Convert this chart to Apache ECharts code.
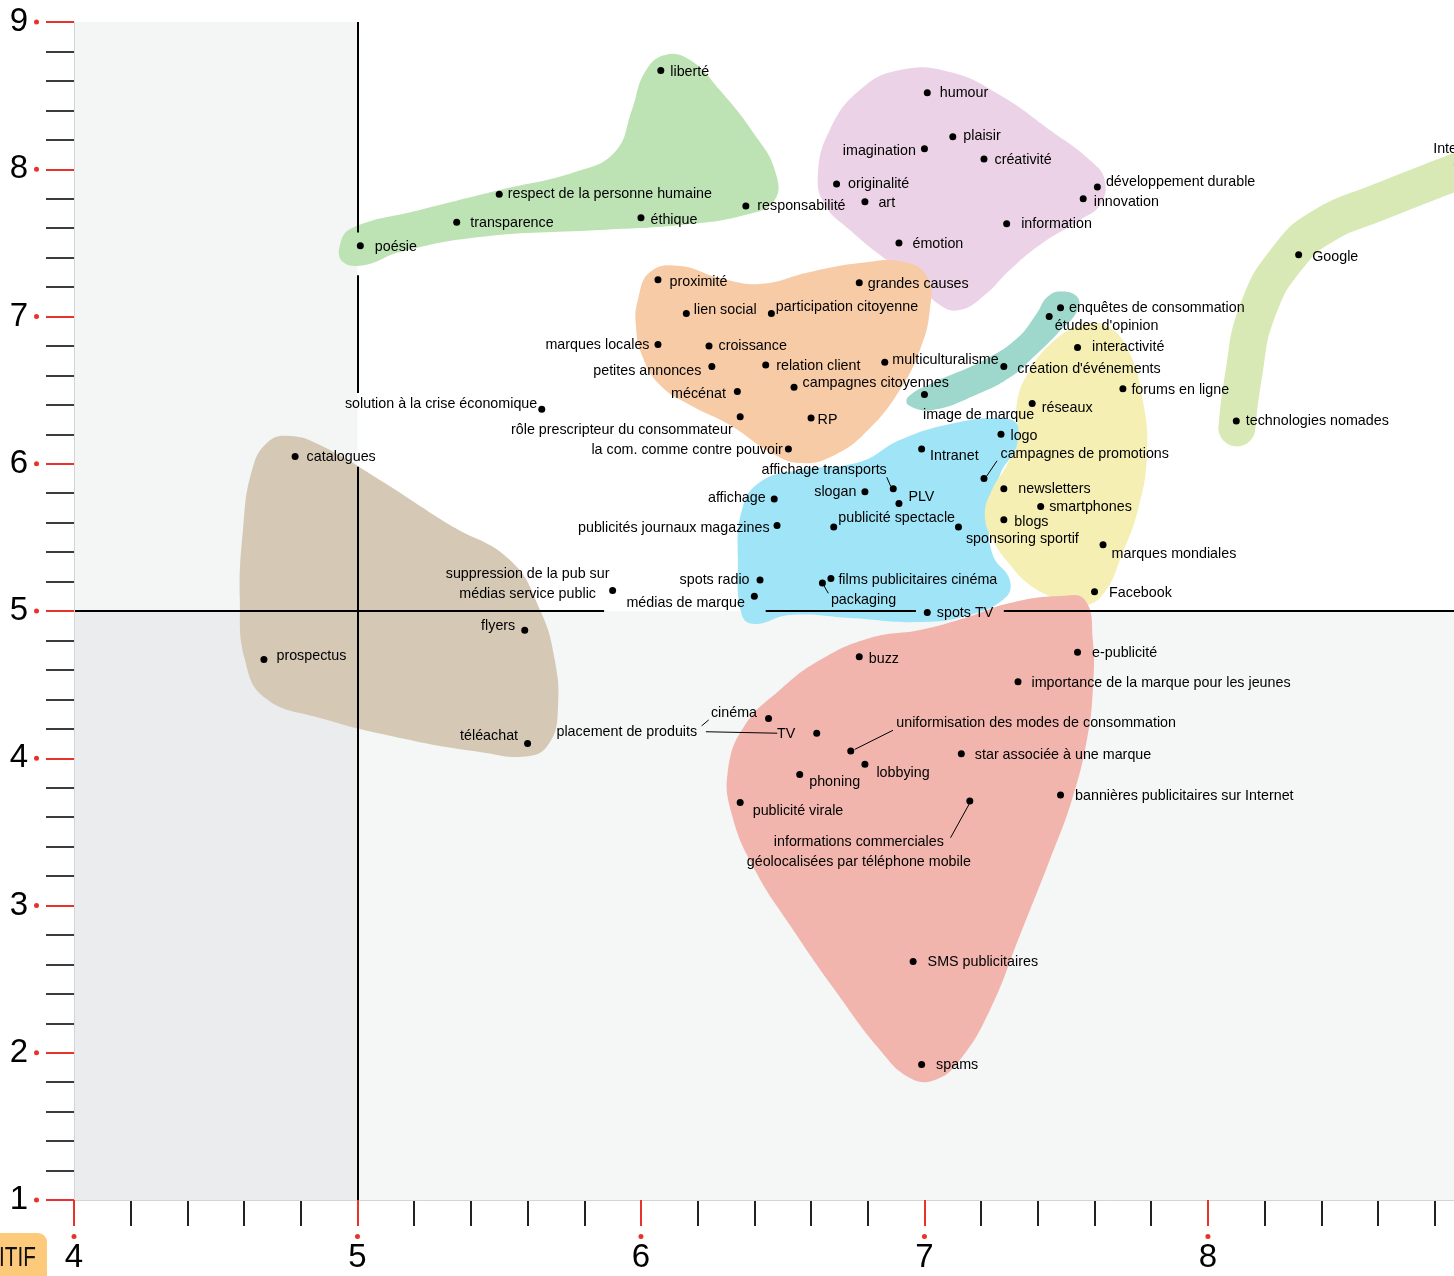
<!DOCTYPE html>
<html><head><meta charset="utf-8">
<script src="https://cdn.jsdelivr.net/npm/echarts@6/dist/echarts.min.js"></script>
<style>html,body{margin:0;padding:0;background:#fff}#c{width:1454px;height:1276px}</style>
</head><body><div id="c"></div>
<script>
// ---------- axis ranges & tick labels ----------
const X_MIN = 4, X_MAX = 8.868, Y_MIN = 1, Y_MAX = 9;
const xTickLabels = ['4', '5', '6', '7', '8'];
const yTickLabels = ['1', '2', '3', '4', '5', '6', '7', '8', '9'];

// ---------- points: [label, x, y] ----------
const ethique = [
  ['liberté', 6.07, 8.67],
  ['respect de la personne humaine', 5.50, 7.83],
  ['transparence', 5.35, 7.64],
  ['éthique', 6.00, 7.67],
  ['responsabilité', 6.37, 7.75],
  ['poésie', 5.01, 7.48]
];
const creativite = [
  ['humour', 7.01, 8.52],
  ['plaisir', 7.10, 8.22],
  ['imagination', 7.00, 8.14],
  ['créativité', 7.21, 8.07],
  ['originalité', 6.69, 7.90],
  ['art', 6.79, 7.78],
  ['développement durable', 7.61, 7.88],
  ['innovation', 7.56, 7.80],
  ['information', 7.29, 7.63],
  ['émotion', 6.91, 7.50]
];
const citoyen = [
  ['proximité', 6.06, 7.25],
  ['grandes causes', 6.77, 7.23],
  ['lien social', 6.16, 7.02],
  ['participation citoyenne', 6.46, 7.02],
  ['marques locales', 6.06, 6.81],
  ['croissance', 6.24, 6.80],
  ['petites annonces', 6.25, 6.66],
  ['relation client', 6.44, 6.67],
  ['multiculturalisme', 6.86, 6.69],
  ['mécénat', 6.34, 6.49],
  ['campagnes citoyennes', 6.54, 6.52],
  ['rôle prescripteur du consommateur', 6.35, 6.32],
  ['RP', 6.60, 6.31],
  ['la com. comme contre pouvoir', 6.52, 6.10]
];
const etudes = [
  ['enquêtes de consommation', 7.48, 7.06],
  ["études d'opinion", 7.44, 7.00],
  ["création d'événements", 7.28, 6.66],
  ['image de marque', 7.00, 6.47]
];
const numerique = [
  ['interactivité', 7.54, 6.79],
  ['forums en ligne', 7.70, 6.51],
  ['réseaux', 7.38, 6.41],
  ['logo', 7.27, 6.20],
  ['campagnes de promotions', 7.21, 5.90],
  ['newsletters', 7.28, 5.83],
  ['smartphones', 7.41, 5.71],
  ['blogs', 7.28, 5.62],
  ['sponsoring sportif', 7.12, 5.57],
  ['marques mondiales', 7.63, 5.45],
  ['Facebook', 7.60, 5.13]
];
const medias = [
  ['Intranet', 6.99, 6.10],
  ['affichage transports', 6.89, 5.83],
  ['slogan', 6.79, 5.81],
  ['PLV', 6.91, 5.73],
  ['affichage', 6.47, 5.76],
  ['publicités journaux magazines', 6.48, 5.58],
  ['publicité spectacle', 6.68, 5.57],
  ['spots radio', 6.42, 5.21],
  ['médias de marque', 6.40, 5.10],
  ['films publicitaires cinéma', 6.67, 5.22],
  ['packaging', 6.64, 5.19],
  ['spots TV', 7.01, 4.99]
];
const papier = [
  ['catalogues', 4.78, 6.05],
  ['prospectus', 4.67, 4.67],
  ['flyers', 5.59, 4.87],
  ['téléachat', 5.60, 4.10]
];
const intrusif = [
  ['e-publicité', 7.54, 4.72],
  ['importance de la marque pour les jeunes', 7.33, 4.52],
  ['buzz', 6.77, 4.69],
  ['cinéma', 6.45, 4.27],
  ['TV', 6.62, 4.17],
  ['uniformisation des modes de consommation', 6.74, 4.05],
  ['lobbying', 6.79, 3.96],
  ['star associée à une marque', 7.13, 4.03],
  ['phoning', 6.56, 3.89],
  ['publicité virale', 6.35, 3.70],
  ['informations commerciales\ngéolocalisées par téléphone mobile', 7.16, 3.71],
  ['bannières publicitaires sur Internet', 7.48, 3.75],
  ['SMS publicitaires', 6.96, 2.62],
  ['spams', 6.99, 1.92]
];
const internet = [
  ['Google', 8.32, 7.42],
  ['technologies nomades', 8.10, 6.29],
  ['Internet', 8.88, 8.03]
];
const autres = [
  ['solution à la crise économique', 5.65, 6.37],
  ['suppression de la pub sur\nmédias service public', 5.90, 5.14]
];
const annotations = [
  ['placement de produits', 5.95, 4.185]
];

// ---------- group outlines (data units) ----------
const outlineEthique = [[4.938,7.486],[4.981,7.601],[5.220,7.723],[5.502,7.859],[5.767,7.981],[5.908,8.117],[5.968,8.402],[6.014,8.660],[6.084,8.776],[6.173,8.742],[6.278,8.538],[6.402,8.233],[6.472,7.995],[6.472,7.791],[6.367,7.689],[6.137,7.621],[5.855,7.587],[5.432,7.540],[5.150,7.438],[5.026,7.350],[4.949,7.370]];
const outlineCreativite = [[6.913,8.674],[7.090,8.660],[7.266,8.504],[7.442,8.267],[7.583,8.063],[7.636,7.927],[7.619,7.757],[7.548,7.655],[7.407,7.486],[7.301,7.316],[7.213,7.146],[7.125,7.044],[7.054,7.078],[6.966,7.248],[6.843,7.418],[6.737,7.587],[6.649,7.757],[6.624,7.961],[6.666,8.267],[6.772,8.538]];
const outlineCitoyen = [[5.989,7.112],[6.032,7.302],[6.137,7.343],[6.278,7.261],[6.420,7.221],[6.596,7.302],[6.772,7.363],[6.931,7.370],[7.012,7.261],[7.019,7.044],[6.984,6.773],[6.913,6.501],[6.808,6.243],[6.684,6.060],[6.561,6.005],[6.455,6.080],[6.314,6.263],[6.173,6.399],[6.067,6.535],[6.003,6.739],[5.982,6.942]];
const outlineEtudes = [[6.942,6.453],[7.030,6.550],[7.206,6.700],[7.326,6.850],[7.396,7.020],[7.432,7.130],[7.478,7.170],[7.538,7.135],[7.540,7.040],[7.467,6.880],[7.382,6.720],[7.301,6.585],[7.185,6.470],[7.030,6.365],[6.945,6.395]];
const outlineNumerique = [[7.326,6.413],[7.372,6.637],[7.460,6.840],[7.548,6.936],[7.636,6.942],[7.718,6.773],[7.770,6.433],[7.785,6.060],[7.753,5.686],[7.696,5.380],[7.636,5.129],[7.559,5.034],[7.460,5.088],[7.372,5.177],[7.308,5.299],[7.241,5.482],[7.213,5.652],[7.238,5.822],[7.291,5.992],[7.330,6.161]];
const outlineMedias = [[6.356,4.973],[6.342,5.346],[6.356,5.686],[6.420,5.876],[6.561,5.958],[6.772,6.012],[6.913,6.161],[7.090,6.270],[7.266,6.311],[7.330,6.263],[7.330,6.127],[7.266,5.924],[7.231,5.618],[7.241,5.380],[7.301,5.211],[7.284,5.088],[7.160,4.973],[6.984,4.925],[6.737,4.953],[6.525,4.973],[6.402,4.912]];
const outlinePapier = [[4.762,6.189],[4.868,6.127],[5.079,5.890],[5.326,5.584],[5.538,5.346],[5.644,5.007],[5.696,4.667],[5.707,4.328],[5.679,4.110],[5.608,4.015],[5.432,4.043],[5.150,4.138],[4.868,4.273],[4.674,4.409],[4.603,4.667],[4.585,5.075],[4.596,5.550],[4.628,5.958],[4.684,6.148]];
const outlineIntrusif = [[7.478,5.102],[7.566,5.075],[7.594,4.803],[7.594,4.464],[7.573,4.124],[7.520,3.717],[7.442,3.309],[7.337,2.800],[7.231,2.290],[7.125,1.951],[7.037,1.815],[6.949,1.829],[6.843,2.019],[6.684,2.426],[6.525,2.868],[6.402,3.241],[6.321,3.615],[6.307,3.920],[6.367,4.226],[6.490,4.464],[6.631,4.667],[6.808,4.817],[6.984,4.871],[7.143,4.953],[7.301,5.054]];
const bandInternet = [[8.102,6.243],[8.123,6.569],[8.176,7.044],[8.289,7.418],[8.412,7.621],[8.596,7.771],[8.828,7.947],[8.924,8.015]];

// ---------- quadrant lines and leader lines (data units) ----------
const crossLines = [
  [[5, 9], [5, 7.57]], [[5, 7.28], [5, 6.48]], [[5, 5.98], [5, 1]],
  [[4, 5], [5.87, 5]], [[6.44, 5], [6.97, 5]], [[7.28, 5], [8.87, 5]]
];
const leaders = [
  [[7.218, 5.912], [7.256, 6.02]],
  [[6.867, 5.909], [6.881, 5.847]],
  [[6.640, 5.19], [6.661, 5.12]],
  [[6.214, 4.22], [6.239, 4.26]],
  [[6.229, 4.18], [6.481, 4.17]],
  [[6.754, 4.06], [6.889, 4.19]],
  [[7.161, 3.70], [7.092, 3.46]]
];

// ---------- label placement (style, px) ----------
const labelPlace = {
  'liberté':['R',1,1], 'respect de la personne humaine':['R',0,0], 'transparence':['R',5,1], 'éthique':['R',1,2], 'responsabilité':['R',3,0], 'poésie':['R',6,1],
  'humour':['R',4,0], 'plaisir':['R',2,-1], 'imagination':['L',0,2], 'créativité':['R',2,1], 'originalité':['R',3,0], 'art':['R',5,1],
  'développement durable':['R',0,-5], 'innovation':['R',2,3], 'information':['R',6,0], 'émotion':['R',5,1],
  'proximité':['R',3,2], 'grandes causes':['R',0,1], 'lien social':['R',-1,-4], 'participation citoyenne':['R',-4,-7],
  'marques locales':['L',0,1], 'croissance':['R',1,0], 'petites annonces':['L',-2,4], 'relation client':['R',2,1],
  'multiculturalisme':['R',-1,-2], 'mécénat':['L',-3,2], 'campagnes citoyennes':['R',0,-4],
  'rôle prescripteur du consommateur':['L',1,13], 'RP':['R',-2,2], 'la com. comme contre pouvoir':['L',3,1],
  'solution à la crise économique':['L',4,-5],
  'enquêtes de consommation':['R',0,0], "études d'opinion":['R',-3,10], "création d'événements":['R',5,2], 'image de marque':['R',-10,21],
  'interactivité':['R',6,0], 'forums en ligne':['R',0,1], 'réseaux':['R',1,5], 'logo':['R',1,2], 'campagnes de promotions':['R',8,-24],
  'newsletters':['R',6,0], 'smartphones':['R',0,1], 'blogs':['R',2,2], 'sponsoring sportif':['R',-1,12], 'marques mondiales':['R',0,9], 'Facebook':['R',6,1],
  'Intranet':['R',0,7], 'affichage transports':['L',2,-19], 'slogan':['L',0,0], 'PLV':['R',1,-6], 'affichage':['L',0,-1],
  'publicités journaux magazines':['L',1,2], 'publicité spectacle':['R',-4,-9], 'spots radio':['L',-2,0], 'médias de marque':['L',-1,7],
  'films publicitaires cinéma':['R',-1,1], 'packaging':['R',0,17], 'spots TV':['R',1,1],
  'suppression de la pub sur\nmédias service public':['C',-85,-6],
  'catalogues':['R',3,1], 'prospectus':['R',4,-4], 'flyers':['L',-1,-4], 'téléachat':['L',-1,-7],
  'e-publicité':['R',6,1], 'importance de la marque pour les jeunes':['R',5,1], 'buzz':['R',1,2], 'cinéma':['L',-3,-5], 'TV':['L',-13,1],
  'uniformisation des modes de consommation':['R',37,-28], 'lobbying':['R',3,9], 'star associée à une marque':['R',5,1],
  'phoning':['R',1,8], 'publicité virale':['R',4,9], 'informations commerciales\ngéolocalisées par téléphone mobile':['C',-111,51],
  'bannières publicitaires sur Internet':['R',6,1], 'SMS publicitaires':['R',6,1], 'spams':['R',6,1],
  'Google':['R',5,2], 'technologies nomades':['R',1,0], 'Internet':['T',0,3],
  'placement de produits':['C',0,1]
};
const POS = { R: 'right', L: 'left', C: 'inside', T: 'top' };

const LABEL_FONT = '"Liberation Sans", Arial, Helvetica, sans-serif';
const AXIS_FONT = '"Liberation Sans Narrow", "Liberation Sans", Arial, sans-serif';
const RED = '#e8322b';

function toItems(arr) {
  return arr.map(d => {
    const p = labelPlace[d[0]] || ['R', 0, 0];
    return {
      name: d[0],
      value: [d[1], d[2]],
      label: { position: POS[p[0]], offset: [p[1], p[2]], align: p[0] === 'C' || p[0] === 'T' ? 'center' : undefined }
    };
  });
}

function blob(outline, color) {
  return {
    type: 'custom', coordinateSystem: 'cartesian2d', silent: true, z: 1, clip: false,
    data: [outline[0]],
    renderItem: (params, api) => ({
      type: 'polygon',
      shape: { points: outline.map(p => api.coord(p)), smooth: 0.45 },
      style: { fill: color }
    })
  };
}

const allPoints = [].concat(ethique, creativite, citoyen, etudes, numerique, medias, papier, intrusif, internet, autres);

const chart = echarts.init(document.getElementById('c'));
chart.setOption({
  animation: false,
  backgroundColor: '#ffffff',
  grid: { left: 74, right: 0, top: 22, bottom: 76 },
  xAxis: [
    {
      type: 'value', min: X_MIN, max: X_MAX, position: 'bottom', z: 5,
      axisLine: { show: true, onZero: false, lineStyle: { color: '#d3d5d6', width: 1 } },
      axisTick: { show: true, length: 26, customValues: xTickLabels.map(Number), lineStyle: { color: RED, width: 2 } },
      axisLabel: {
        margin: 34, customValues: xTickLabels.map(Number),
        formatter: v => (Number.isInteger(v) ? '{d|}\n{v|' + v + '}' : ''),
        rich: {
          d: { width: 5, height: 5, borderRadius: 3, backgroundColor: RED, align: 'center' },
          v: { fontSize: 33, lineHeight: 38, fontFamily: AXIS_FONT, color: '#000', align: 'center' }
        }
      },
      splitLine: { show: false }
    },
    {
      type: 'value', min: X_MIN, max: X_MAX, position: 'bottom', z: 4,
      axisLine: { show: false, onZero: false },
      axisTick: { show: true, length: 26, customValues: Array.from({ length: 25 }, (_, i) => 4 + i * 0.2), lineStyle: { color: '#222', width: 2 } },
      axisLabel: { show: false },
      splitLine: { show: false }
    }
  ],
  yAxis: [
    {
      type: 'value', min: Y_MIN, max: Y_MAX, position: 'left', z: 5,
      axisLine: { show: true, onZero: false, lineStyle: { color: '#d3d5d6', width: 1 } },
      axisTick: { show: true, length: 28, customValues: yTickLabels.map(Number), lineStyle: { color: RED, width: 2 } },
      axisLabel: {
        margin: 35, customValues: yTickLabels.map(Number),
        formatter: v => '{v|' + v + '}{g|}{d|}',
        rich: {
          v: { fontSize: 33, lineHeight: 36, fontFamily: AXIS_FONT, color: '#000' },
          g: { width: 6 },
          d: { width: 5, height: 5, borderRadius: 3, backgroundColor: RED, verticalAlign: 'middle' }
        }
      },
      splitLine: { show: false }
    },
    {
      type: 'value', min: Y_MIN, max: Y_MAX, interval: 0.2, position: 'left', z: 4,
      axisLine: { show: false, onZero: false },
      axisTick: { show: true, length: 28, lineStyle: { color: '#3c3c3c', width: 2 } },
      axisLabel: { show: false },
      splitLine: { show: false }
    }
  ],
  graphic: [
    { type: 'rect', x: -12, y: 1233, shape: { width: 59, height: 60, r: 9 }, style: { fill: '#fdc97b' }, z: 10 },
    { type: 'text', x: -1, y: 1244, scaleX: 0.74, style: { text: 'ITIF', font: '28px "Liberation Sans", Arial, sans-serif', fill: '#111' }, z: 11 }
  ],
  series: [
    {
      type: 'line', data: [[X_MIN, Y_MIN]], symbol: 'none', silent: true, z: 0,
      lineStyle: { opacity: 0 },
      markArea: {
        silent: true,
        data: [
          [{ coord: [X_MIN, 5], itemStyle: { color: '#f4f5f5' } }, { coord: [5, Y_MAX] }],
          [{ coord: [X_MIN, Y_MIN], itemStyle: { color: '#ebeced' } }, { coord: [5, 5] }],
          [{ coord: [5, Y_MIN], itemStyle: { color: '#f5f6f6' } }, { coord: [X_MAX, 5] }]
        ]
      }
    },
    blob(outlinePapier, '#d5c9b6'),
    blob(outlineEthique, '#bde3b5'),
    blob(outlineCreativite, '#ecd2e6'),
    blob(outlineCitoyen, '#f8cba7'),
    blob(outlineEtudes, '#9ed8cc'),
    blob(outlineMedias, '#a0e4f7'),
    blob(outlineNumerique, '#f5efb4'),
    blob(outlineIntrusif, '#f2b5ae'),
    {
      type: 'line', data: bandInternet, smooth: 0.5, symbol: 'none', silent: true, z: 1,
      lineStyle: { color: '#d8e9b6', width: 37, cap: 'round', join: 'round' }
    },
    {
      type: 'lines', coordinateSystem: 'cartesian2d', silent: true, z: 2,
      data: crossLines.map(c => ({ coords: c })),
      lineStyle: { color: '#000', width: 2, opacity: 1 }
    },
    {
      type: 'lines', coordinateSystem: 'cartesian2d', silent: true, z: 3,
      data: leaders.map(c => ({ coords: c })),
      lineStyle: { color: '#000', width: 1, opacity: 1 }
    },
    {
      type: 'scatter', z: 4, clip: false, silent: true,
      symbol: 'circle', symbolSize: 7,
      itemStyle: { color: '#000', opacity: 1 },
      label: { show: true, formatter: '{b}', color: '#000', fontSize: 14.3, fontFamily: LABEL_FONT, distance: 5, lineHeight: 20 },
      data: toItems(allPoints)
    },
    {
      type: 'scatter', z: 4, silent: true, symbolSize: 0,
      itemStyle: { color: '#000', opacity: 1 },
      label: { show: true, formatter: '{b}', color: '#000', fontSize: 14.3, fontFamily: LABEL_FONT },
      data: toItems(annotations)
    }
  ]
});
</script>
</body></html>
